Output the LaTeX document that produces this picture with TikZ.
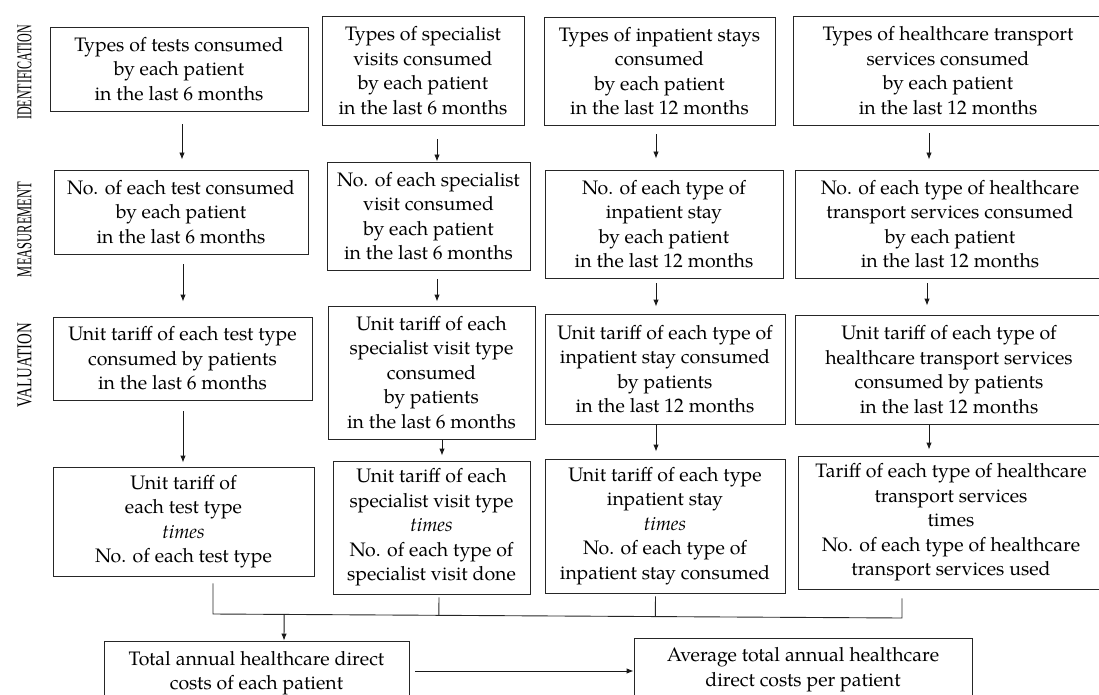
\documentclass[tikz,border=0pt]{standalone}
\usepackage{fontspec}
\setmainfont{TeX Gyre Pagella}
\newfontfamily\labfont{Liberation Serif}
\usetikzlibrary{arrows.meta,calc}
\tikzset{
  box/.style={draw=black!85, line width=0.9pt, inner sep=0pt, align=center,
    font=\fontsize{19.5}{24.5}\selectfont},
  arr/.style={draw=black!90, line width=0.9pt, -{Latex[length=7pt,width=5.5pt]}},
  conn/.style={draw=black!85, line width=0.9pt},
  lab/.style={rotate=90, inner sep=0pt, font=\labfont\fontsize{20}{20}\selectfont}
}
\begin{document}
\begin{tikzpicture}[x=1pt,y=-1pt]
\useasboundingbox (0,0) rectangle (1099,695);
\clip (0,0) rectangle (1099,695);

% stage labels
\node[lab] (lid) at (24.5,72.5) {\resizebox{95pt}{14pt}{IDENTIFICATION}};
\node[lab] (lme) at (24.5,229.5) {\resizebox{95pt}{14pt}{MEASUREMENT}};
\node[lab] (lva) at (24.5,365) {\resizebox{84pt}{14pt}{VALUATION}};

% row 1
\node[box, minimum width=258, minimum height=84] (A1) at (179,69)
  {Types of tests consumed\\ by each patient\\ in the last 6 months};
\node[box, minimum width=202, minimum height=109] (B1) at (423,70.5)
  {Types of specialist\\ visits consumed\\ by each patient\\ in the last 6 months};
\node[box, minimum width=231, minimum height=108] (C1) at (659.5,71)
  {Types of inpatient stays\\ consumed\\ by each patient\\ in the last 12 months};
\node[box, minimum width=310, minimum height=109] (D1) at (948,70.5)
  {Types of healthcare transport\\ services consumed\\ by each patient\\ in the last 12 months};

% row 2
\node[box, minimum width=254, minimum height=84] (A2) at (181,212)
  {No. of each test consumed\\ by each patient\\ in the last 6 months};
\node[box, minimum width=203, minimum height=108] (B2) at (428.5,216)
  {No. of each specialist\\ visit consumed\\ by each patient\\ in the last 6 months};
\node[box, minimum width=238, minimum height=108] (C2) at (664,224)
  {No. of each type of\\ inpatient stay\\ by each patient\\ in the last 12 months};
\node[box, minimum width=310, minimum height=108] (D2) at (950,224)
  {No. of each type of healthcare\\ transport services consumed\\ by each patient\\ in the last 12 months};

% row 3
\node[box, minimum width=259, minimum height=83] (A3) at (182.5,358.5)
  {Unit tariff of each test type\\ consumed by patients\\ in the last 6 months};
\node[box, minimum width=207, minimum height=133] (B3) at (431.5,372.5)
  {Unit tariff of each\\ specialist visit type\\ consumed\\ by patients\\ in the last 6 months};
\node[box, minimum width=240, minimum height=110] (C3) at (665,369)
  {Unit tariff of each type of\\ inpatient stay consumed\\ by patients\\ in the last 12 months};
\node[box, minimum width=308, minimum height=109] (D3) at (949,369.5)
  {Unit tariff of each type of\\ healthcare transport services\\ consumed by patients\\ in the last 12 months};

% row 4
\node[box, minimum width=261, minimum height=109] (A4) at (183.5,521.5)
  {Unit tariff of\\ each test type\\ \textit{times}\\ No. of each test type};
\node[box, minimum width=197, minimum height=133] (B4) at (431.5,527.5)
  {Unit tariff of each\\ specialist visit type\\ \textit{times}\\ No. of each type of\\ specialist visit done};
\node[box, minimum width=240, minimum height=134] (C4) at (665,526)
  {Unit tariff of each type\\ inpatient stay\\ \textit{times}\\ No. of each type of\\ inpatient stay consumed};
\node[box, minimum width=306, minimum height=133] (D4) at (951,522.5)
  {Tariff of each type of healthcare\\ transport services\\ times\\ No. of each type of healthcare\\ transport services used};

% bottom
\node[box, minimum width=305, minimum height=64] (T) at (256.5,673)
  {Total annual healthcare direct\\ costs of each patient};
\node[box, minimum width=338, minimum height=63] (Av) at (803,669.5)
  {Average total annual healthcare\\ direct costs per patient};

% arrow x positions
\coordinate (xA1) at (182,0);
\coordinate (xA2) at (183,0);
\coordinate (xB1) at (437,0);
\coordinate (xB3) at (442,0);
\coordinate (xC) at (656,0);
\coordinate (xD1) at (929,0);
\coordinate (xD2) at (927,0);

\draw[arr, shorten <=13pt, shorten >=10pt] (A1.south -| xA1) -- (A2.north -| xA1);
\draw[arr, shorten <=10pt, shorten >=15pt] (A2.south -| xA2) -- (A3.north -| xA2);
\draw[arr, shorten <=11pt, shorten >=4pt] (A3.south -| xA2) -- (A4.north -| xA2);

\draw[arr, shorten <=14pt, shorten >=0pt] (B1.south -| xB1) -- (B2.north -| xB1);
\draw[arr, shorten <=9pt, shorten >=4pt] (B2.south -| xB1) -- (B3.north -| xB1);
\draw[arr, shorten <=1pt, shorten >=5pt] (B3.south -| xB3) -- (B4.north -| xB3);

\draw[arr, shorten <=9pt, shorten >=11pt] (C1.south -| xC) -- (C2.north -| xC);
\draw[arr, shorten <=5pt, shorten >=7pt] (C2.south -| xC) -- (C3.north -| xC);
\draw[arr, shorten <=0pt, shorten >=7pt] (C3.south -| xC) -- (C4.north -| xC);

\draw[arr, shorten <=8pt, shorten >=10pt] (D1.south -| xD1) -- (D2.north -| xD1);
\draw[arr, shorten <=5pt, shorten >=9pt] (D2.south -| xD2) -- (D3.north -| xD2);
\draw[arr, shorten <=1pt, shorten >=6pt] (D3.south -| xD1) -- (D4.north -| xD1);

% collecting line
\coordinate (jL) at (213,614);
\coordinate (jR) at (902,618);
\coordinate (xb) at (439,0);
\coordinate (xc) at (655.5,0);
\coordinate (xt) at (284,0);
\coordinate (ay) at (0,671);
\draw[conn, shorten <=7pt, shorten >=9pt] (A4.south -| jL) -- (jL) -- (jR) -- (D4.south -| jR);
\draw[conn, shorten <=3pt] (B4.south -| xb) -- ($(jL)!(B4.south -| xb)!(jR)$);
\draw[conn, shorten <=3pt] (C4.south -| xc) -- ($(jL)!(C4.south -| xc)!(jR)$);
\draw[arr] ($(jL)!(T.north -| xt)!(jR)$) -- (T.north -| xt);
\draw[arr, shorten <=6pt] (T.east |- ay) -- (Av.west |- ay);
\end{tikzpicture}
\end{document}
